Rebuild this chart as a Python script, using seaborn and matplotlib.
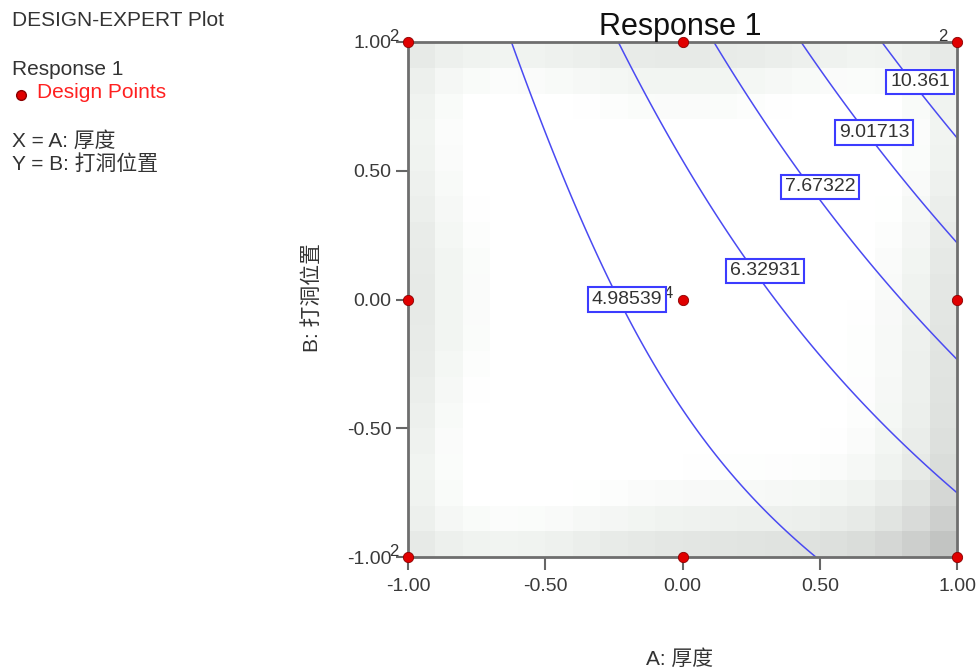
import numpy as np
import matplotlib
matplotlib.use("Agg")
import matplotlib.pyplot as plt
import seaborn as sns
import pandas as pd
from matplotlib.colors import LinearSegmentedColormap

# Quadratic response model (coded units)
model_terms = ["Intercept", "A", "B", "AB", "A^2", "B^2"]
model_coef = [5.49, 2.30, 1.345, 1.627, 0.554, 0.383]

contour_levels = [4.98539, 6.32931, 7.67322, 9.01713, 10.361]
label_A = [-0.202, 0.300, 0.501, 0.698, 0.865]
label_B = [0.0, 0.111, 0.437, 0.650, 0.845]

design_A = [-1, -1, 1, 1, -1, 1, 0, 0, 0]
design_B = [-1, 1, 1, -1, 0, 0, -1, 1, 0]
replicates = [2, 2, 2, 1, 1, 1, 1, 1, 4]
tick_values = [-1.0, -0.5, 0.0, 0.5, 1.0]

sns.set_theme(style="white")
plt.rcParams["font.family"] = ["Liberation Sans", "Noto Sans CJK SC"]

W, H = 980, 670
fig = plt.figure(figsize=(W / 100, H / 100), dpi=100)
x0, x1, y0, y1 = 408, 957, 42, 557
ax = fig.add_axes([x0 / W, 1 - y1 / H, (x1 - x0) / W, (y1 - y0) / H])


def terms(a, b):
    return np.stack([np.ones_like(a), a, b, a * b, a ** 2, b ** 2], -1)


# standard-error shading from the design
A_d = np.repeat(np.array(design_A, float), replicates)
B_d = np.repeat(np.array(design_B, float), replicates)
Xd = terms(A_d, B_d)
XtXi = np.linalg.inv(Xd.T @ Xd)
edges = np.linspace(-1, 1, 21)
cent = (edges[:-1] + edges[1:]) / 2
GA, GB = np.meshgrid(cent, cent)
F = terms(GA, GB)
se = np.sqrt(np.einsum("...i,ij,...j->...", F, XtXi, F))
cmap = LinearSegmentedColormap.from_list(
    "se", [(0, "#ffffff"), (0.12, "#ffffff"), (0.3, "#f3f6f3"), (0.55, "#e3e6e3"), (1, "#c2c4c2")])
ax.pcolormesh(edges, edges, se, cmap=cmap, shading="flat", zorder=0)

# response surface and contours
fa = np.linspace(-1, 1, 201)
MA, MB = np.meshgrid(fa, fa)
Z = terms(MA, MB) @ np.array(model_coef)
cs = ax.contour(MA, MB, Z, levels=contour_levels, colors="#4a4af2", linewidths=1.1, zorder=2)
for lv, a, b in zip(contour_levels, label_A, label_B):
    ax.text(a, b, f"{lv:.6g}", fontsize=14, color="#333333", ha="center", va="center", zorder=5,
            bbox=dict(boxstyle="square,pad=0.2", facecolor="white", edgecolor="#3c3cff", linewidth=1.5))

# design points
df = pd.DataFrame({"A": design_A, "B": design_B, "n": replicates})
sns.scatterplot(data=df, x="A", y="B", ax=ax, color="#e00000", edgecolor="#8a0000", linewidth=0.6,
                s=55, zorder=6, clip_on=False, legend=False)
for a, b, n in zip(design_A, design_B, replicates):
    if n > 1:
        ax.annotate(str(n), (a, b), xytext=(-7, 4), textcoords="offset points", ha="right", va="center",
                    fontsize=12, color="#333333", zorder=4, annotation_clip=False)

ax.set_xlim(-1, 1)
ax.set_ylim(-1, 1)
ax.set_xticks(tick_values)
ax.set_yticks(tick_values)
ax.set_xticklabels([f"{v:.2f}" for v in tick_values])
ax.set_yticklabels([f"{v:.2f}" for v in tick_values])
ax.tick_params(axis="both", direction="out", length=9, width=1.5, color="#666666", labelsize=14,
               labelcolor="#3a3a3a", left=True, bottom=True)
ax.tick_params(axis="x", pad=6)
ax.tick_params(axis="y", pad=3)
for s in ax.spines.values():
    s.set_color("#6e6e6e")
    s.set_linewidth(2)
    s.set_visible(True)
ax.set_xlabel("")
ax.set_ylabel("")

fig.text(680 / W, 1 - 35 / H, "Response 1", fontsize=22, ha="center", va="baseline", color="#111111")
fig.text(680 / W, 1 - 665 / H, "A: 厚度", fontsize=15, ha="center", va="baseline", color="#333333")
fig.text(312 / W, 1 - 297 / H, "B: 打洞位置", fontsize=15, ha="center", va="center", rotation=90, color="#333333")

fig.text(12 / W, 1 - 26 / H, "DESIGN-EXPERT Plot", fontsize=15, va="baseline", color="#333333")
fig.text(12 / W, 1 - 75 / H, "Response 1", fontsize=15, va="baseline", color="#333333")
fig.text(37 / W, 1 - 98 / H, "Design Points", fontsize=15, va="baseline", color="#ff2020")
fig.add_artist(plt.Line2D([21 / W], [1 - 95 / H], marker="o", color="#e00000", markeredgecolor="#8a0000", markersize=7))
fig.text(12 / W, 1 - 147 / H, "X = A: 厚度", fontsize=15, va="baseline", color="#333333")
fig.text(12 / W, 1 - 170 / H, "Y = B: 打洞位置", fontsize=15, va="baseline", color="#333333")

fig.savefig("out.png", dpi=100)
